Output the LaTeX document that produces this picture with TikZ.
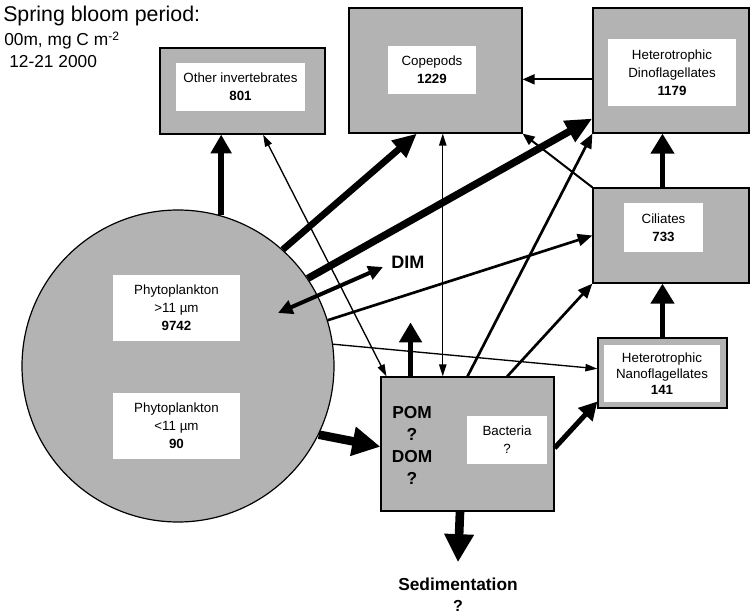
\documentclass[tikz,border=0pt]{standalone}
\usepackage{fontspec}
\setmainfont{Liberation Sans}
\usetikzlibrary{arrows.meta,calc}
\definecolor{boxgray}{RGB}{179,179,179}
\begin{document}
\begin{tikzpicture}[x=0.75pt,y=-0.75pt,
  graybox/.style={draw=black,line width=0.9pt,fill=boxgray,inner sep=0pt},
  whitebox/.style={fill=white,inner sep=0pt,align=center,font=\fontsize{10}{13.5}\selectfont},
  bigtext/.style={inner sep=0pt,align=center,font=\fontsize{13}{16.5}\selectfont\bfseries},
  thinarr/.style={line width=1pt,-{Triangle[length=9pt,width=5.5pt]}},
  thindbl/.style={line width=1pt,{Triangle[length=9pt,width=5.5pt]}-{Triangle[length=9pt,width=5.5pt]}},
  midarr/.style={line width=1.5pt,-{Triangle[length=9pt,width=7.5pt]}},
  medarr/.style={line width=2pt,-{Triangle[length=11pt,width=9pt]}},
  dimarr/.style={line width=3pt,{Triangle[length=11pt,width=10.5pt]}-{Triangle[length=11pt,width=10.5pt]}},
  thickarr/.style={line width=4pt,-{Triangle[length=14pt,width=15pt]}},
  vthickarr/.style={line width=5pt,-{Triangle[length=18pt,width=16pt]}},
  hugearr/.style={line width=6.5pt,-{Triangle[length=21pt,width=21pt]}}
]
\useasboundingbox (0,0) rectangle (751,616);

% title
\node[anchor=base west,inner sep=0pt,font=\fontsize{16}{19}\selectfont] (t1) at (3,22) {Spring bloom period:};
\node[anchor=base west,inner sep=0pt,font=\fontsize{13}{16}\selectfont] (t2) at (4,46) {00m, mg C m\textsuperscript{-2}};
\node[anchor=base west,inner sep=0pt,font=\fontsize{13}{16}\selectfont] (t3) at (9,68) {12-21 2000};

% phytoplankton circle
\node[circle,draw=black,line width=0.9pt,fill=boxgray,minimum size=234pt,inner sep=0pt] (circ) at (178,366) {};
\node[whitebox,minimum width=95.25pt,minimum height=49.5pt] (phyL) at (176.5,308) {Phytoplankton\\>11 µm\\\textbf{9742}};
\node[whitebox,minimum width=95.25pt,minimum height=49.5pt] (phyS) at (176.5,426) {Phytoplankton\\<11 µm\\\textbf{90}};

% boxes
\node[graybox,minimum width=123.75pt,minimum height=64.5pt] (oi) at (242.5,91) {};
\node[whitebox,minimum width=96.75pt,minimum height=36pt] (oiw) at (240.5,87) {Other invertebrates\\\textbf{801}};

\node[graybox,minimum width=129.75pt,minimum height=93.75pt] (cope) at (435.5,70.5) {};
\node[whitebox,minimum width=66pt,minimum height=36pt] (copew) at (432,70) {Copepods\\\textbf{1229}};

\node[graybox,minimum width=117pt,minimum height=93.75pt] (dino) at (671,70.5) {};
\node[whitebox,minimum width=96pt,minimum height=50.25pt] (dinow) at (672,72.5) {Heterotrophic\\Dinoflagellates\\\textbf{1179}};

\node[graybox,minimum width=117pt,minimum height=71.25pt] (cil) at (671,235.5) {};
\node[whitebox,minimum width=59.25pt,minimum height=36.75pt] (cilw) at (663.5,227.5) {Ciliates\\\textbf{733}};

\node[graybox,minimum width=96.75pt,minimum height=52.5pt] (hnf) at (662.5,373) {};
\node[whitebox,minimum width=87pt,minimum height=42.75pt,font=\fontsize{10}{12}\selectfont] (hnfw) at (662,373.5) {Heterotrophic\\Nanoflagellates\\\textbf{141}};

\node[graybox,minimum width=129.75pt,minimum height=100.5pt] (pom) at (467.5,444) {};
\node[whitebox,minimum width=60pt,minimum height=36pt] (bact) at (507,440) {Bacteria\\?};
\node[bigtext] (pomtxt) at (412,445) {POM\\?\\DOM\\?};

\node[inner sep=0pt,anchor=base,font=\fontsize{13}{15}\selectfont\bfseries] (sed) at (458,591) {Sedimentation};
\node[inner sep=0pt,anchor=base,font=\fontsize{12}{14}\selectfont\bfseries] (sedq) at (458,612) {?};
\node[inner sep=0pt,anchor=west,font=\fontsize{13.5}{16}\selectfont\bfseries] (dim) at (391,262) {DIM};

% connector end points
\coordinate (oiS) at ($(oi.south west)!0.624!(oi.south east)$);
\coordinate (pomN1) at ($(pom.north west)!0.035!(pom.north east)$);
\coordinate (pomN2) at ($(pom.north west)!0.173!(pom.north east)$);
\coordinate (pomN3) at ($(pom.north west)!0.358!(pom.north east)$);
\coordinate (pomN5) at ($(pom.north west)!0.728!(pom.north east)$);
\coordinate (pomS) at ($(pom.south west)!0.457!(pom.south east)$);
\coordinate (pomUp) at ($(pomN2)+(0,-54)$);
\coordinate (copeS) at ($(cope.south west)!0.393!(cope.south east)$);
\coordinate (dinoW1) at ($(dino.north west)!0.88!(dino.south west)$);
\coordinate (dinoW2) at ($(dino.north west)!0.57!(dino.south west)$);
\coordinate (hnfW1) at ($(hnf.north west)!0.44!(hnf.south west)$);
\coordinate (hnfW2) at ($(hnf.north west)!0.9!(hnf.south west)$);
\coordinate (pomW) at ($(pom.north west)!0.52!(pom.south west)$);
\coordinate (pomE) at ($(pom.north east)!0.53!(pom.south east)$);
\coordinate (dimin) at (278,313);
\coordinate (dimout) at (383,267);

% connectors
\draw[thickarr] (circ.74) -- (circ.74 |- oi.south);
\draw[thindbl] (oiS) -- (pomN1);
\draw[vthickarr] (circ.48) -- (copeS);
\draw[vthickarr,line width=5.5pt,-{Triangle[length=20pt,width=17pt]}] (circ.34) -- (dinoW1);
\draw[dimarr] (dimin) -- (dimout);
\draw[medarr] (circ.17) -- (cil.west);
\draw[thinarr] (circ.8) -- (hnfW1);
\draw[hugearr] (circ.-26) -- (pomW);
\draw[thickarr,-{Triangle[length=15pt,width=16.5pt]}] (pomN2) -- (pomUp);
\draw[thindbl] (pomN3) -- (pomN3 |- cope.south);
\draw[medarr] (pom.north) -- (dino.south west);
\draw[midarr] (cil.north west) -- (cope.south east);
\draw[medarr] (pomN5) -- (cil.south west);
\draw[thickarr,line width=3.8pt,-{Triangle[length=13.5pt,width=14pt]}] (pomE) -- (hnfW2);
\draw[thickarr,-{Triangle[length=15pt,width=17pt]}] (hnf.north) -- (hnf.north |- cil.south);
\draw[thickarr,-{Triangle[length=15pt,width=17pt]}] (hnf.north |- cil.north) -- (hnf.north |- dino.south);
\draw[midarr] (dinoW2) -- (dinoW2 -| cope.east);
\draw[hugearr] (pomS) -- ([yshift=12pt]sed.north);
\end{tikzpicture}
\end{document}
